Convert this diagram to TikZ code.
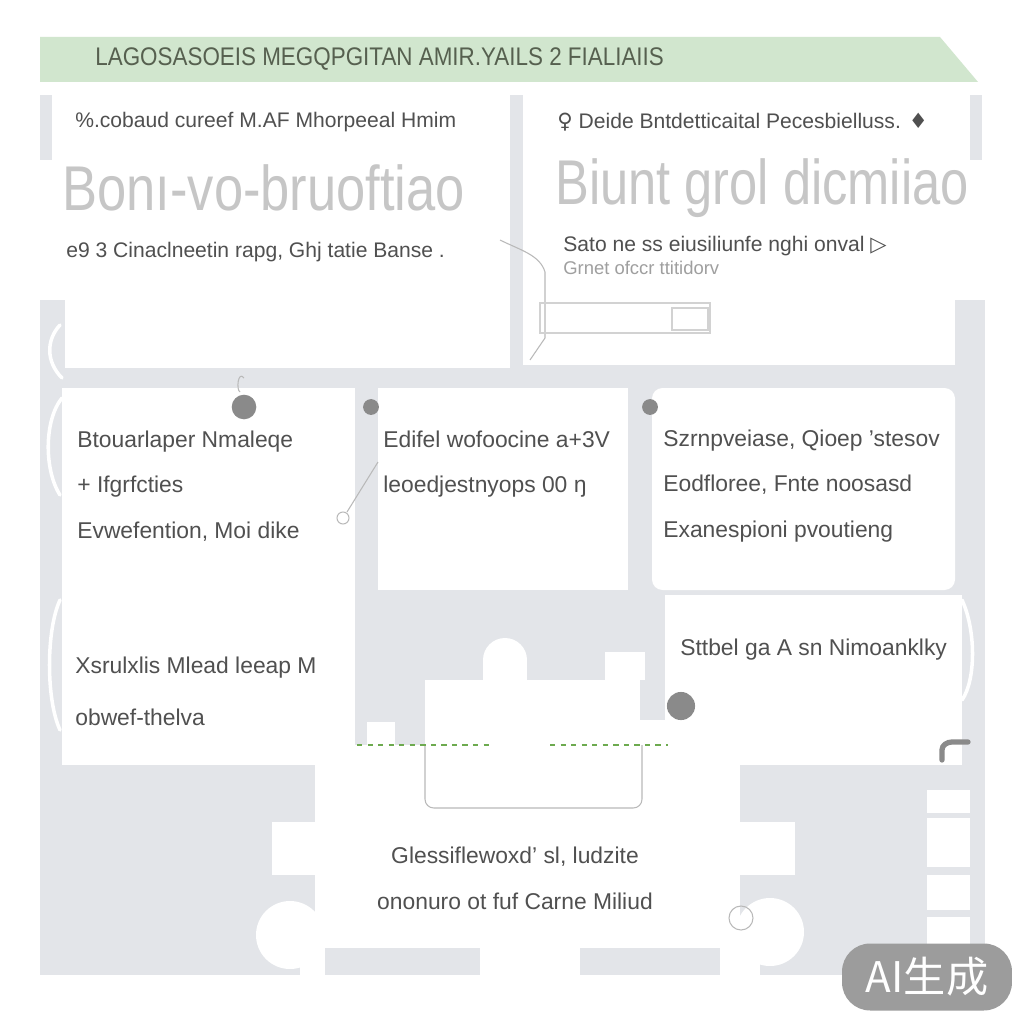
\documentclass[tikz,border=0pt]{standalone}
\usepackage{fontspec}
\usepackage{graphicx}
\setmainfont{Liberation Sans}
\newfontfamily\symfont{DejaVu Sans}
\newfontfamily\cjkfont{Noto Sans CJK SC}
\definecolor{bggray}{HTML}{E3E5E9}
\definecolor{bannergreen}{HTML}{D1E6CE}
\definecolor{bannerink}{HTML}{56604F}
\definecolor{inkgray}{HTML}{505050}
\definecolor{bigink}{HTML}{C6C6C6}
\definecolor{dotgray}{HTML}{8A8A8A}
\definecolor{dashgreen}{HTML}{6DAA4F}
\definecolor{badgegray}{HTML}{9C9C9C}
\begin{document}
\begin{tikzpicture}[x=0.02cm, y=-0.02cm,
        panel/.style={fill=white, draw=none},
        strip/.style={fill=bggray, draw=none},
        txt/.style={anchor=west, inner sep=0pt, text=inkgray, align=left, font=\fontsize{13}{26}\selectfont},
        head/.style={anchor=west, inner sep=0pt, text=inkgray, font=\fontsize{12}{14}\selectfont},
        big/.style={anchor=west, inner sep=0pt, text=bigink, font=\fontsize{36}{40}\selectfont},
        dot/.style={circle, fill=dotgray, inner sep=0pt, minimum size=#1},
        wire/.style={draw=white, line width=2pt, line cap=round},
        faint/.style={draw=gray!55, line width=0.6pt},
    ]
    \useasboundingbox (0,0) rectangle (1024,1024);
    \fill[white] (0,0) rectangle (1024,1024);

    % backdrop
    \fill[strip] (40,300) rectangle (985,975);
    \fill[strip] (40,95) rectangle (52,160);
    \fill[strip] (510,95) rectangle (523,370);
    \fill[strip] (970,95) rectangle (982,160);

    % banner
    \fill[bannergreen] (40,37) -- (940,37) -- (978,82) -- (40,82) -- cycle;
    \node[anchor=west, inner sep=0pt, text=bannerink, font=\fontsize{14.5}{16}\selectfont] (title) at (95,59)
        {\scalebox{0.88}[1]{LAGOSASOEIS MEGQPGITAN AMIR.YAILS 2 FIALIAIIS}};

    % top panels
    \fill[panel] (52,95) rectangle (510,368);
    \fill[strip] (40,300) rectangle (65,370);
    \fill[panel] (523,95) rectangle (970,365);
    \fill[strip] (955,300) rectangle (985,365);

    % middle and lower panels
    \fill[panel] (62,388) rectangle (355,765);
    \fill[panel] (378,388) rectangle (628,590);
    \fill[panel, rounded corners=6] (652,388) rectangle (955,590);
    \fill[panel] (665,595) rectangle (962,765);

    % centre block
    \fill[panel] (425,680) rectangle (640,745);
    \fill[panel] (483,660) rectangle (527,682);
    \fill[panel] (505,660) circle [radius=22];
    \fill[panel] (605,652) rectangle (645,680);
    \fill[panel] (367,722) rectangle (395,745);
    \fill[panel] (640,720) rectangle (665,745);
    \fill[panel] (355,745) rectangle (740,948);
    \fill[panel] (315,765) rectangle (355,948);
    \fill[panel] (272,822) rectangle (795,875);
    \fill[panel] (480,948) rectangle (580,977);
    \fill[panel] (300,948) rectangle (325,977);
    \fill[panel] (720,948) rectangle (760,977);
    \fill[panel] (290,935) circle [radius=34];
    \fill[panel] (770,932) circle [radius=34];
    \draw[faint, rounded corners=5] (425,745) -- (425,808) -- (642,808) -- (642,745);
    \draw[dashgreen, dashed, line width=1pt] (357,745) -- (490,745);
    \draw[dashgreen, dashed, line width=1pt] (550,745) -- (668,745);

    % ladder on the right
    \foreach \ya/\yb in {790/813, 818/867, 875/910, 917/945}
        \fill[panel] (927,\ya) rectangle (970,\yb);
    \draw[dotgray, line width=3pt, line cap=round] (942,760) -- (942,750) to[out=90, in=180] (952,742) -- (968,742);

    % small connectors
    \draw[wire] (60,325) .. controls (46,340) and (46,362) .. (62,378);
    \draw[wire] (62,398) .. controls (44,420) and (44,470) .. (60,495);
    \draw[wire] (60,600) .. controls (46,630) and (46,700) .. (60,730);
    \draw[wire] (962,600) .. controls (976,630) and (976,680) .. (962,700);
    \draw[faint] (500,240) .. controls (520,250) and (540,255) .. (545,272) -- (545,338) -- (530,360);
    \draw[faint, draw=gray!35] (540,303) rectangle (710,333);
    \draw[faint, draw=gray!35] (672,308) rectangle (708,330);
    \draw[faint] (343,518) circle [radius=6];
    \draw[faint] (347,512) -- (378,462);
    \draw[faint] (244,378) .. controls (238,370) and (236,390) .. (240,392);
    \draw[faint] (741,918) circle [radius=12];

    % dots
    \node[dot=14pt] (d1) at (244,407) {};
    \node[dot=9pt] (d2) at (371,407) {};
    \node[dot=9pt] (d3) at (650,407) {};
    \node[dot=16pt] (d4) at (681,706) {};

    % texts
    \node[head] (tl1) at (75,122) {\%.cobaud cureef M.AF Mhorpeeal Hmim};
    \node[big] (tl2) at (62,188) {\scalebox{0.83}[1]{Bonı-vo-bruoftiao}};
    \node[head] (tl3) at (66,252) {e9 3 Cinaclneetin rapg, Ghj tatie Banse .};
    \node[head] (tr1) at (557,122) {{\symfont ♀} Deide Bntdetticaital Pecesbielluss. {\symfont ♦}};
    \node[big] (tr2) at (555,188) {\scalebox{0.8}[1]{Biunt grol dicmiiao}};
    \node[head] (tr3) at (563,246) {Sato ne ss eiusiliunfe nghi onval {\symfont ▷}};
    \node[head, text=inkgray!55, font=\fontsize{10.5}{12}\selectfont] (tr4) at (563,268) {Grnet ofccr ttitidorv};
    \node[txt] (ma) at (77,486) {Btouarlaper Nmaleqe\\+ Ifgrfcties\\Evwefention, Moi dike};
    \node[txt] (mb) at (383,464) {Edifel wofoocine a+3V\\leoedjestnyops 00 ŋ};
    \node[txt] (mc) at (663,486) {Szrnpveiase, Qioep 'stesov\\Eodfloree, Fnte noosasd\\Exanespioni pvoutieng};
    \node[txt, font=\fontsize{13}{29.5}\selectfont] (ld) at (75,691) {Xsrulxlis Mlead leeap M\\obwef-thelva};
    \node[txt] (le) at (680,650) {Sttbel ga A sn Nimoanklky};
    \node[txt, anchor=center, align=center] (lf) at (515,878) {Glessiflewoxd' sl, ludzite\\ononuro ot fuf Carne Miliud};

    % badge
    \node[fill=badgegray, rounded corners=16pt, minimum width=3.4cm, minimum height=1.34cm,
        text=white, font=\cjkfont\fontsize{24}{26}\selectfont] (badge) at (927,977) {AI生成};
\end{tikzpicture}
\end{document}
